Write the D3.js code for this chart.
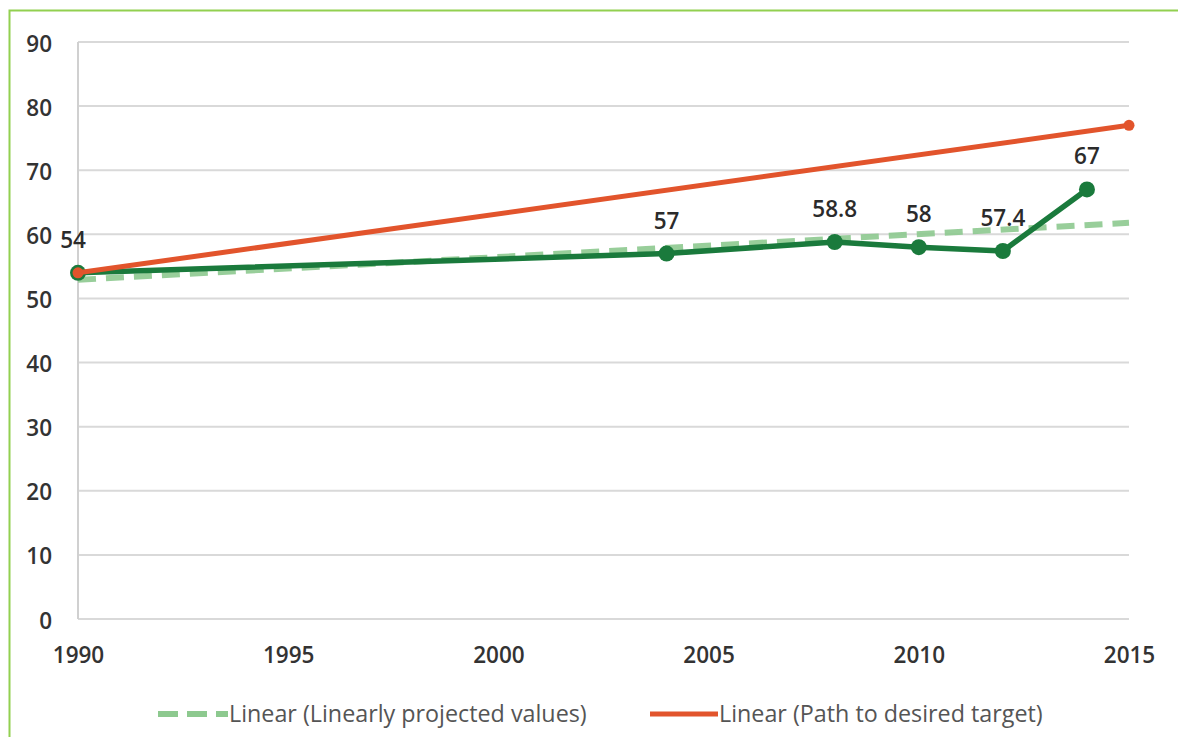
<!DOCTYPE html>
<html><head><meta charset="utf-8">
<script src="https://cdn.jsdelivr.net/npm/d3@7"></script>
<style>body{margin:0;background:#fff;}svg{display:block;}</style>
</head><body>
<svg id="chart" width="1178" height="737"></svg>
<script>
const years = [1990, 2004, 2008, 2010, 2012, 2014];
const values = [54, 57, 58.8, 58, 57.4, 67];
const labels = ["54", "57", "58.8", "58", "57.4", "67"];
const trendYears = [1990, 2015];
const trendValues = [52.9, 61.8];
const targetYears = [1990, 2015];
const targetValues = [54, 77];
const xTicks = [1990, 1995, 2000, 2005, 2010, 2015];
const yTicks = [0, 10, 20, 30, 40, 50, 60, 70, 80, 90];
const legendLabels = ["Linear (Linearly projected values)", "Linear (Path to desired target)"];

const svg = d3.select("#chart");
const font = "'Open Sans', sans-serif";
const fs = 22.5;
const lfs = 23.3;
const x = d3.scaleLinear().domain([1990, 2015]).range([78, 1129]);
const y = d3.scaleLinear().domain([0, 90]).range([619, 42]);

// frame border
svg.append("path").attr("d", "M9.5,737 L9.5,10.5 L1178,10.5")
  .attr("fill", "none").attr("stroke", "#92d050").attr("stroke-width", 2);

// gridlines
svg.append("g").selectAll("line").data(yTicks).join("line")
  .attr("x1", x(1990)).attr("x2", x(2015))
  .attr("y1", d => y(d)).attr("y2", d => y(d))
  .attr("stroke", "#d9d9d9").attr("stroke-width", 2);
svg.append("line").attr("x1", x(1990)).attr("x2", x(1990)).attr("y1", y(90)).attr("y2", y(0))
  .attr("stroke", "#d0d0d0").attr("stroke-width", 2);

// y axis labels
const yAxis = d3.axisLeft(y).tickValues(yTicks).tickSize(0).tickPadding(0);
const gy = svg.append("g").attr("transform", "translate(52,0)").call(yAxis);
gy.select(".domain").remove();
gy.selectAll("text").attr("font-family", font).attr("font-size", fs).attr("font-weight", 600)
  .attr("fill", "#333").attr("dy", "0.4em");

// x axis labels
const xAxis = d3.axisBottom(x).tickValues(xTicks).tickFormat(d3.format("d")).tickSize(0).tickPadding(0);
const gx = svg.append("g").attr("transform", "translate(0,0)").call(xAxis);
gx.select(".domain").remove();
gx.selectAll("text").attr("font-family", font).attr("font-size", fs).attr("font-weight", 600)
  .attr("fill", "#333").attr("y", 663).attr("dy", 0);

// trend dashed line
const line = d3.line().x(d => x(d[0])).y(d => y(d[1]));
svg.append("path").datum(d3.zip(trendYears, trendValues)).attr("d", line)
  .attr("fill", "none").attr("stroke", "#8dc98f").attr("stroke-width", 6)
  .attr("stroke-dasharray", "18,10").attr("stroke-opacity", 0.9);

// data line
const pts = d3.zip(years, values);
svg.append("path").datum(pts).attr("d", line)
  .attr("fill", "none").attr("stroke", "#1a7a3c").attr("stroke-width", 5.5).attr("stroke-linejoin", "round");
svg.append("g").selectAll("circle").data(pts).join("circle")
  .attr("cx", d => x(d[0])).attr("cy", d => y(d[1])).attr("r", 8).attr("fill", "#1a7a3c");

// target line
svg.append("path").datum(d3.zip(targetYears, targetValues)).attr("d", line)
  .attr("fill", "none").attr("stroke", "#e2542c").attr("stroke-width", 5);
svg.append("g").selectAll("circle").data(d3.zip(targetYears, targetValues)).join("circle")
  .attr("cx", d => x(d[0])).attr("cy", d => y(d[1])).attr("r", 5.5).attr("fill", "#e2542c");

// data labels
svg.append("g").selectAll("text").data(pts).join("text")
  .attr("x", (d, i) => x(d[0]) + (i === 0 ? -5 : 0)).attr("y", d => y(d[1]) - 25)
  .attr("text-anchor", "middle").attr("font-family", font).attr("font-size", fs).attr("font-weight", 600)
  .attr("fill", "#2b2b2b").text((d, i) => labels[i]);

// legend
const lg = svg.append("g");
lg.append("line").attr("x1", 158).attr("x2", 228).attr("y1", 714).attr("y2", 714)
  .attr("stroke", "#8dc98f").attr("stroke-width", 6).attr("stroke-dasharray", "20,9");
lg.append("text").attr("x", 229).attr("y", 714).attr("dy", "0.35em").attr("font-family", font)
  .attr("font-size", lfs).attr("fill", "#555").text(legendLabels[0]);
lg.append("line").attr("x1", 650).attr("x2", 718).attr("y1", 714).attr("y2", 714)
  .attr("stroke", "#e2542c").attr("stroke-width", 5);
lg.append("text").attr("x", 719).attr("y", 714).attr("dy", "0.35em").attr("font-family", font)
  .attr("font-size", lfs).attr("fill", "#555").text(legendLabels[1]);
</script>
</body></html>
